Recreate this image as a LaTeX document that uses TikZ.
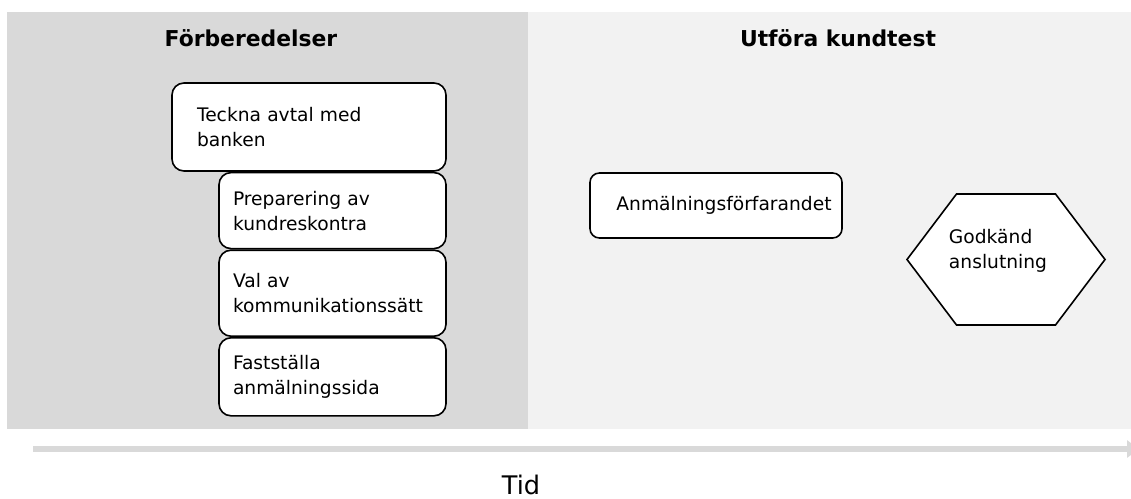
\documentclass[tikz,border=0pt]{standalone}
\usepackage{fontspec}
\setmainfont{DejaVu Sans}
\usetikzlibrary{positioning,calc,arrows.meta}
\definecolor{darkbg}{HTML}{D9D9D9}
\definecolor{lightbg}{HTML}{F2F2F2}
\tikzset{
    x=0.75pt, y=-0.75pt, semithick,
    task/.style ={rectangle, rounded corners=9pt, draw, line width=1.2pt, fill=white, align=left,
                  inner ysep=0pt, font=\fontsize{14}{18.75}\selectfont},
    step1/.style = {task, inner xsep=10.5pt, text width=149.25pt},
    head/.style = {anchor=base, font=\fontsize{16.4}{20}\selectfont\bfseries},
    axis/.style = {line width=4.5pt, draw=darkbg, -{Triangle[width=12.75pt,length=9pt]}}
}

\begin{document}
\begin{tikzpicture}
    \useasboundingbox (0,0) rectangle (1131,499);
    \clip (0,0) rectangle (1131,499);
    % panels
    \fill[darkbg] (7,12) rectangle (528,429);
    \fill[lightbg] (528,12) rectangle (1131,429);
    \node[head] (prep) at (251,47) {Förberedelser};
    \node[head] (exec) at (838,47) {Utföra kundtest};

    \node (teckna) at (309,127) [task, inner xsep=18.75pt, text width=168pt, minimum height=66pt] {Teckna avtal med\\banken};
    \node (kund) [step1, minimum height=57pt, below left=0pt and 0pt of teckna.south east] {Preparering av\\kundreskontra};
    \node (val) [step1, minimum height=64.5pt, below=0pt of kund] {Val av\\kommunikationssätt};
    \node (sida) [step1, minimum height=58.5pt, below=0pt of val] {Fastställa\\anmälningssida};

    \node (anm) at (716,205.5) [task, rounded corners=7pt, minimum width=189pt, minimum height=48.75pt] {\hspace*{12pt}Anmälningsförfarandet};
    \coordinate (hex) at (1006,259.5);
    \draw[line width=1.2pt, fill=white] (hex) ++(-99,0) -- ++(49.5,-65.5) -- ++(99,0) -- ++(49.5,65.5)
        -- ++(-49.5,65.5) -- ++(-99,0) -- cycle;
    \node (godk) at ($(hex)+(-8,-9)$) [align=left, font=\fontsize{14}{18.75}\selectfont] {Godkänd\\anslutning};

    % time axis
    \coordinate (t0) at (33,449);
    \coordinate (t1) at (1139,449);
    \draw[axis] (t0) -- (t1);
    \node (tid) at (521,494) [anchor=base, font=\fontsize{19.2}{22}\selectfont] {Tid};
\end{tikzpicture}
\end{document}
